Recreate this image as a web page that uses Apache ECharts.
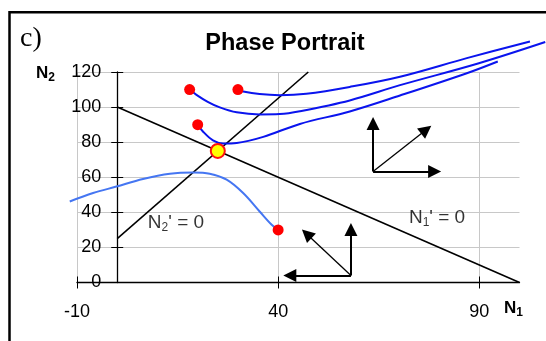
<!DOCTYPE html>
<html>
<head>
<meta charset="utf-8">
<script src="https://cdn.jsdelivr.net/npm/echarts@6/dist/echarts.min.js"></script>
<style>
  html, body { margin: 0; padding: 0; background: #fff; }
  #chart { width: 546px; height: 341px; }
</style>
</head>
<body>
<div id="chart"></div>
<script>
// Axis ticks
var xTicks = [-10, 40, 90];
var yTicks = [0, 20, 40, 60, 80, 100, 120];

// Nullclines: N1' = 0 and N2' = 0
var nullclineN1 = [[0, 100], [100, 0]];
var nullclineN2 = [[0, 25], [47.5, 120]];

// Coexistence equilibrium
var equilibrium = [[25, 75]];

// Initial conditions of the trajectories
var startPoints = [[18, 110], [30, 110], [20, 90], [40, 30]];

// Trajectories (they run past the plot edges)
var trajTop = [[30, 110], [31.3, 108.9], [35.4, 107.4], [40.4, 106.8], [47, 107.6], [57.8, 111.5], [70.3, 117.3], [86.9, 127.9], [102.6, 137.4]];
var trajMiddle = [[18, 110], [19.7, 107], [22.5, 103], [25.5, 99.8], [29.7, 97], [35.4, 95.8], [40.4, 96], [45.4, 97.6], [57.8, 103.8], [70.3, 112.5], [89.9, 125], [106.4, 137.1]];
var trajBottom = [[20, 90], [21.3, 86.1], [23.8, 81], [26.3, 79.2], [29.7, 79.5], [36.3, 83], [45.4, 90.4], [57.8, 97.5], [70.3, 106.6], [86.9, 119.3], [94.6, 126]];
var trajLow = [[40, 30], [38.4, 32.9], [35.4, 40.5], [31.3, 51], [27.2, 58.6], [23, 62], [18.9, 62.7], [13.1, 62], [6.4, 59], [-0.2, 54.7], [-6, 51], [-11.8, 46.2]];

// Direction-field arrows: [from, to]
var arrowsThick = [
  [[63.6, 63.3], [63.6, 90.6]],
  [[63.6, 63.3], [78.9, 63.3]],
  [[58.1, 4], [58.1, 30.2]],
  [[58.1, 4], [42.9, 4]]
];
var arrowsThin = [
  [[63.6, 63.3], [76.8, 87.1]],
  [[58.1, 4], [47.1, 27.7]]
];

// Nullcline labels
var nullclineLabels = [
  { pos: [14.6, 34.2], text: "N{s|2}' = 0" },
  { pos: [79.5, 36.8], text: "N{s|1}' = 0" }
];

var FONT = '"Liberation Sans", Arial, sans-serif';

// Plot frame: x from -10 to 100, y from 0 to 120
var X_MIN = -10, X_MAX = 100, Y_MIN = 0, Y_MAX = 120;
var PLOT = { left: 77, top: 72, width: 442.5, height: 210.5 };
var PX_X = PLOT.width / (X_MAX - X_MIN);
var PX_Y = PLOT.height / (Y_MAX - Y_MIN);
// A wider, invisible frame on the same scale so trajectories may leave the plot
var WIDE = { xMin: -15, xMax: 106.5, yMin: 0, yMax: 145 };
var wideGrid = {
  left: PLOT.left - (X_MIN - WIDE.xMin) * PX_X,
  top: PLOT.top - (WIDE.yMax - Y_MAX) * PX_Y,
  width: (WIDE.xMax - WIDE.xMin) * PX_X,
  height: (WIDE.yMax - WIDE.yMin) * PX_Y
};
var Y_AXIS_SHIFT = -(0 - X_MIN) * PX_X; // place the vertical axis at N1 = 0

var chart = echarts.init(document.getElementById('chart'), null, { renderer: 'canvas' });

function curve(data, color) {
  return {
    type: 'line', data: data, smooth: 0.35, symbol: 'none', clip: false,
    xAxisIndex: 2, yAxisIndex: 2,
    lineStyle: { color: color, width: 2 }, z: 3, silent: true
  };
}
function arrows(list, width) {
  return {
    type: 'lines', coordinateSystem: 'cartesian2d', silent: true, z: 4,
    symbol: ['none', 'triangle'], symbolSize: 13,
    lineStyle: { color: '#000', width: width, opacity: 1 },
    data: list.map(function (a) { return { coords: a }; })
  };
}
function hiddenAxis(min, max, grid) {
  return { type: 'value', min: min, max: max, gridIndex: grid, show: false,
    axisLine: { show: false }, axisTick: { show: false }, axisLabel: { show: false }, splitLine: { show: false } };
}

var tickLabelStyle = { fontFamily: FONT, fontSize: 18, color: '#000' };

chart.setOption({
  animation: false,
  backgroundColor: '#fff',
  title: {
    text: 'Phase Portrait', left: 280, top: 27, textAlign: 'center',
    textStyle: { fontFamily: FONT, fontSize: 23.5, fontWeight: 'bold', color: '#000' }
  },
  grid: [
    { left: PLOT.left, top: PLOT.top, width: PLOT.width, height: PLOT.height, containLabel: false },
    { left: wideGrid.left, top: wideGrid.top, width: wideGrid.width, height: wideGrid.height, containLabel: false, show: false }
  ],
  xAxis: [{
    type: 'value', min: X_MIN, max: X_MAX, interval: 50, position: 'bottom', gridIndex: 0,
    axisLine: { show: true, onZero: false, lineStyle: { color: '#000', width: 1.3 } },
    axisTick: { show: true, inside: false, length: 6, customValues: xTicks, lineStyle: { color: '#000' } },
    axisLabel: { show: true, margin: 21, customValues: xTicks, textStyle: tickLabelStyle },
    splitLine: { show: true, lineStyle: { color: '#c8c8c8', width: 1 } }
  }, {
    type: 'value', min: X_MIN, max: X_MAX, interval: 50, position: 'bottom', gridIndex: 0,
    axisLine: { show: false, onZero: false },
    axisTick: { show: true, inside: true, length: 6, customValues: xTicks, lineStyle: { color: '#000' } },
    axisLabel: { show: false },
    splitLine: { show: false }
  }, hiddenAxis(WIDE.xMin, WIDE.xMax, 1)],
  yAxis: [{
    type: 'value', min: Y_MIN, max: Y_MAX, interval: 20, position: 'left', gridIndex: 0, offset: Y_AXIS_SHIFT,
    axisLine: { show: true, onZero: false, lineStyle: { color: '#000', width: 1.3 } },
    axisTick: { show: true, inside: false, length: 6, customValues: yTicks, lineStyle: { color: '#000' } },
    axisLabel: { show: true, margin: 16, customValues: yTicks, textStyle: tickLabelStyle },
    splitLine: { show: true, lineStyle: { color: '#c8c8c8', width: 1 } }
  }, {
    type: 'value', min: Y_MIN, max: Y_MAX, interval: 20, position: 'left', gridIndex: 0, offset: Y_AXIS_SHIFT,
    axisLine: { show: false, onZero: false },
    axisTick: { show: true, inside: true, length: 6, customValues: yTicks, lineStyle: { color: '#000' } },
    axisLabel: { show: false },
    splitLine: { show: false }
  }, hiddenAxis(WIDE.yMin, WIDE.yMax, 1)],
  series: [
    { type: 'line', data: nullclineN1, symbol: 'none', clip: false, silent: true, z: 2,
      lineStyle: { color: '#000', width: 1.6 } },
    { type: 'line', data: nullclineN2, symbol: 'none', clip: false, silent: true, z: 2,
      lineStyle: { color: '#000', width: 1.6 } },
    curve(trajTop, '#0a14ee'),
    curve(trajMiddle, '#0a14ee'),
    curve(trajBottom, '#0a14ee'),
    curve(trajLow, '#4576f2'),
    arrows(arrowsThick, 2),
    arrows(arrowsThin, 1.3),
    { type: 'scatter', data: startPoints, symbol: 'circle', symbolSize: 11, silent: true, z: 5,
      itemStyle: { color: '#ff0000', opacity: 1 } },
    { type: 'scatter', data: equilibrium, symbol: 'circle', symbolSize: 14, silent: true, z: 6,
      itemStyle: { color: '#ffff00', borderColor: '#ff1010', borderWidth: 2, opacity: 1 } },
    { type: 'scatter', symbolSize: 0, silent: true, z: 7,
      data: nullclineLabels.map(function (d) { return { value: d.pos, label: { formatter: d.text } }; }),
      label: {
        show: true, position: 'inside', color: '#000', fontFamily: FONT, fontSize: 19,
        rich: { s: { fontFamily: FONT, fontSize: 12, verticalAlign: 'top', padding: [10, 0, 0, 0] } }
      } }
  ],
  graphic: [
    { type: 'rect', shape: { x: 9.5, y: 12.2, width: 600, height: 400 }, silent: true,
      style: { fill: null, stroke: '#000', lineWidth: 2.5 } },
    { type: 'text', left: 20, top: 25, silent: true,
      style: { text: 'c)', font: '28px "Liberation Serif", "Times New Roman", serif', fill: '#000' } },
    { type: 'text', left: 36, top: 65, silent: true,
      style: { text: 'N{s|2}', font: 'bold 17px ' + FONT, fill: '#000',
        rich: { s: { font: 'bold 12px ' + FONT, verticalAlign: 'top', padding: [8, 0, 0, 0] } } } },
    { type: 'text', left: 504, top: 300, silent: true,
      style: { text: 'N{s|1}', font: 'bold 17px ' + FONT, fill: '#000',
        rich: { s: { font: 'bold 12px ' + FONT, verticalAlign: 'top', padding: [8, 0, 0, 0] } } } }
  ]
});
</script>
</body>
</html>
